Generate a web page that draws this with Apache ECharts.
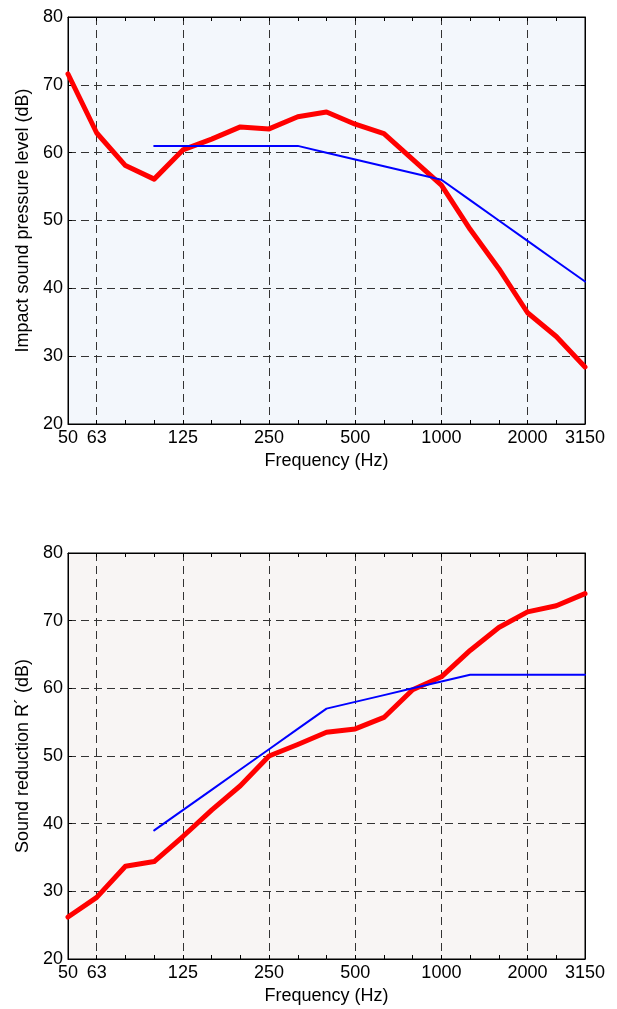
<!DOCTYPE html>
<html>
<head>
<meta charset="utf-8">
<script src="https://cdn.jsdelivr.net/npm/echarts@6/dist/echarts.min.js"></script>
<style>
html,body{margin:0;padding:0;background:#fff;}
#chart{width:617px;height:1009px;}
</style>
</head>
<body>
<div id="chart"></div>
<script>
// Third-octave band centre frequencies (Hz)
const freqLabels = ['50','63','80','100','125','160','200','250','315','400','500','630','800','1000','1250','1600','2000','2500','3150'];
const shownLabels = ['50','63','125','250','500','1000','2000','3150'];
const gridFreqs = ['63','125','250','500','1000','2000'];

// Top: impact sound pressure level (dB)
const impactMeasured = [71.6, 62.9, 58.1, 56.1, 60.4, 62.0, 63.8, 63.5, 65.3, 66.0, 64.2, 62.8, 59.0, 55.2, 48.7, 42.9, 36.4, 32.9, 28.4];
const impactReference = [null, null, null, 61, 61, 61, 61, 61, 61, 60, 59, 58, 57, 56, 53, 50, 47, 44, 41];

// Bottom: sound reduction R' (dB)
const reductionMeasured = [26.2, 29.1, 33.7, 34.4, 38.1, 42.0, 45.6, 50.0, 51.7, 53.5, 54.0, 55.7, 59.8, 61.7, 65.6, 69.0, 71.3, 72.2, 74.0];
const reductionReference = [null, null, null, 39, 42, 45, 48, 51, 54, 57, 58, 59, 60, 61, 62, 62, 62, 62, 62];

const yTicks = {min: 20, max: 80, interval: 10};

const FONT = 'Liberation Sans, Arial, Helvetica, sans-serif';
const dashStyle = {color: '#333333', width: 1, type: [8, 5]};

function bottomX(gridIndex, name) {
  return {
    type: 'category', gridIndex, data: freqLabels, boundaryGap: false, position: 'bottom',
    name, nameLocation: 'middle', nameGap: 28,
    nameTextStyle: {fontFamily: FONT, fontSize: 18, color: '#000'},
    axisLine: {show: true, onZero: false, lineStyle: {color: '#000', width: 1}},
    axisTick: {show: true, inside: true, length: 4, interval: 0, lineStyle: {color: '#000'}},
    axisLabel: {show: true, fontFamily: FONT, fontSize: 18, color: '#000', margin: 5,
      interval: (i, v) => shownLabels.indexOf(v) >= 0},
    splitLine: {show: true, interval: (i, v) => gridFreqs.indexOf(v) >= 0, lineStyle: dashStyle}
  };
}
function topX(gridIndex) {
  return {
    type: 'category', gridIndex, data: freqLabels, boundaryGap: false, position: 'top',
    axisLine: {show: true, onZero: false, lineStyle: {color: '#000', width: 1}},
    axisTick: {show: true, inside: true, length: 4, interval: 0, lineStyle: {color: '#000'}},
    axisLabel: {show: false}, splitLine: {show: false}
  };
}
function leftY(gridIndex, name) {
  return {
    type: 'value', gridIndex, min: yTicks.min, max: yTicks.max, interval: yTicks.interval, position: 'left',
    name, nameLocation: 'middle', nameGap: 33, nameRotate: 90,
    nameTextStyle: {fontFamily: FONT, fontSize: 18, color: '#000'},
    axisLine: {show: true, onZero: false, lineStyle: {color: '#000', width: 1}},
    axisTick: {show: true, inside: true, length: 4, lineStyle: {color: '#000'}},
    axisLabel: {show: true, fontFamily: FONT, fontSize: 18, color: '#000', margin: 5},
    splitLine: {show: true, lineStyle: dashStyle}
  };
}
function rightY(gridIndex) {
  return {
    type: 'value', gridIndex, min: yTicks.min, max: yTicks.max, interval: yTicks.interval, position: 'right',
    axisLine: {show: true, onZero: false, lineStyle: {color: '#000', width: 1}},
    axisTick: {show: true, inside: true, length: 4, lineStyle: {color: '#000'}},
    axisLabel: {show: false}, splitLine: {show: false}
  };
}
function lineSeries(data, xi, yi, color, width, z) {
  return {
    type: 'line', xAxisIndex: xi, yAxisIndex: yi, data, symbol: 'none', z,
    connectNulls: false, lineStyle: {color, width, cap: 'round', join: 'round'}, itemStyle: {color}
  };
}

const chart = echarts.init(document.getElementById('chart'), null, {renderer: 'canvas'});
chart.setOption({
  animation: false,
  backgroundColor: '#ffffff',
  grid: [
    {left: 68, right: 32, top: 17, height: 407, show: true, backgroundColor: '#f3f7fc', borderColor: '#000', borderWidth: 1},
    {left: 68, right: 32, top: 553, height: 406, show: true, backgroundColor: '#f8f5f4', borderColor: '#000', borderWidth: 1}
  ],
  xAxis: [bottomX(0, 'Frequency (Hz)'), topX(0), bottomX(1, 'Frequency (Hz)'), topX(1)],
  yAxis: [leftY(0, 'Impact sound pressure level (dB)'), rightY(0), leftY(1, 'Sound reduction R\u00b4 (dB)'), rightY(1)],
  series: [
    lineSeries(impactMeasured, 0, 0, '#ff0000', 5, 3),
    lineSeries(impactReference, 0, 0, '#0000ff', 2, 4),
    lineSeries(reductionMeasured, 2, 2, '#ff0000', 5, 3),
    lineSeries(reductionReference, 2, 2, '#0000ff', 2, 4)
  ]
});
</script>
</body>
</html>
